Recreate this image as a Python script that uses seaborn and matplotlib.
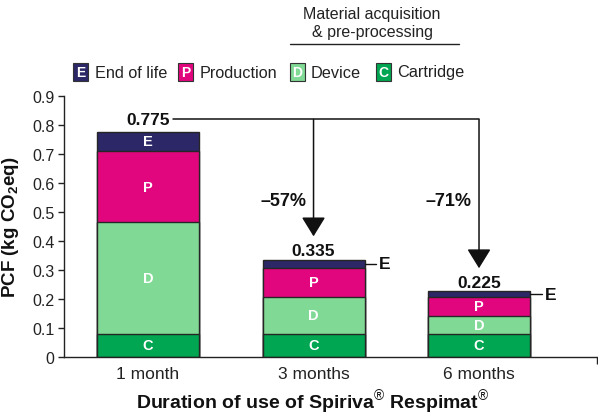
import numpy as np
import pandas as pd
import matplotlib.pyplot as plt
import seaborn as sns
from matplotlib.patches import Rectangle
from matplotlib.lines import Line2D

# Datos (kg CO2eq por segmento)
meses = ['1 month', '3 months', '6 months']
cartucho = [0.080, 0.080, 0.080]
dispositivo = [0.383, 0.125, 0.061]
produccion = [0.247, 0.102, 0.066]
fin_vida = [0.065, 0.028, 0.018]
totales = [0.775, 0.335, 0.225]

letras = ['C', 'D', 'P', 'E']
nombres = ['Cartridge', 'Device', 'Production', 'End of life']
colores = ['#00a651', '#80d994', '#e2067e', '#2c2767']

sns.set_style('ticks')
plt.rcParams['font.family'] = ['Liberation Sans', 'DejaVu Sans']
plt.rcParams['mathtext.fontset'] = 'custom'
plt.rcParams['mathtext.rm'] = 'Liberation Sans'
plt.rcParams['mathtext.bf'] = 'Liberation Sans:bold'

W, H = 598, 414
fig = plt.figure(figsize=(W / 100, H / 100), dpi=100)
ax = fig.add_axes([64 / W, 1 - 357.7 / H, (597 - 64) / W, (357.7 - 96.7) / H])

# Apilado: se dibujan las alturas acumuladas de mayor a menor
capas = np.array([cartucho, dispositivo, produccion, fin_vida])
acum = np.cumsum(capas, axis=0)
ancho = 0.616
for k in range(len(capas) - 1, -1, -1):
    df = pd.DataFrame({'mes': meses, 'top': acum[k]})
    sns.barplot(data=df, x='mes', y='top', color=colores[k], saturation=1,
                width=ancho, edgecolor='#262626', linewidth=1.0, ax=ax)

# Letras dentro de los segmentos
for i in range(len(meses)):
    for k in range(len(capas)):
        if k == 3 and i > 0:
            continue
        base = acum[k - 1][i] if k > 0 else 0
        ax.text(i, base + capas[k][i] / 2, letras[k], ha='center', va='center',
                color='white', fontsize=10.5, fontweight='bold')

# Etiqueta "E" fuera de la barra (3 y 6 meses)
for i in (1, 2):
    yc = acum[2][i] + capas[3][i] / 2
    x0 = i + ancho / 2
    ax.plot([x0, x0 + 0.072], [yc, yc], color='#111', lw=1.0)
    ax.text(x0 + 0.088, yc, 'E', ha='left', va='center', fontsize=12.5,
            fontweight='bold', color='#111')

# Totales
y_linea = totales[0] + 0.043
ax.text(0, y_linea, f'{totales[0]:.3f}', ha='center', va='center',
        fontsize=12.5, fontweight='bold', color='#111')
for i in (1, 2):
    ax.text(i, totales[i] + 0.016, f'{totales[i]:.3f}', ha='center',
            va='baseline', fontsize=12.5, fontweight='bold', color='#111')

# Lineas de reduccion con flechas
ax.plot([0.15, 2], [y_linea, y_linea], color='#111', lw=1.1)
for i in (1, 2):
    ax.annotate('', xy=(i, totales[i] + 0.08), xytext=(i, y_linea),
                arrowprops=dict(arrowstyle='-|>,head_length=0.6,head_width=0.37',
                                mutation_scale=20, color='#111', lw=1.1,
                                shrinkA=0, shrinkB=0))
    cambio = round((totales[i] / totales[0] - 1) * 100)
    ax.text(i - 0.045, 0.540, f'\u2013{abs(cambio)}%', ha='right', va='center',
            fontsize=13, fontweight='bold', color='#111')

# Ejes
ax.set_xlim(-0.508, 2.713)
ax.set_ylim(0, 0.9)
ax.set_yticks(np.arange(0, 0.91, 0.1))
ax.set_yticklabels(['0'] + [f'{v:.1f}' for v in np.arange(0.1, 0.91, 0.1)])
ax.tick_params(axis='y', length=4, width=1.0, pad=3, labelsize=11.5, colors='#222')
ax.tick_params(axis='x', length=0, pad=7, labelsize=12.5, colors='#222')
ax.set_xticks([2.713], minor=True)
ax.tick_params(axis='x', which='minor', length=5, width=1.0, color='#222')
for s in ['top', 'right']:
    ax.spines[s].set_visible(False)
for s in ['left', 'bottom']:
    ax.spines[s].set_color('#222')
    ax.spines[s].set_linewidth(1.0)

ax.set_ylabel(r'PCF (kg CO$_\mathbf{2}$eq)', fontsize=13.5, fontweight='bold',
              color='#111')
ax.yaxis.set_label_coords(-0.08, 0.5)
ax.set_xlabel(r'Duration of use of Spiriva$^{\circledR}$ Respimat$^{\circledR}$',
              fontsize=14, fontweight='bold', color='#111')
ax.xaxis.set_label_coords((313 - 64) / 533, -0.117)

# Leyenda manual con cajas de letras
entradas = [('E', 'End of life', colores[3], 73, 95),
            ('P', 'Production', colores[2], 178, 200),
            ('D', 'Device', colores[1], 290, 311),
            ('C', 'Cartridge', colores[0], 376, 397)]
for letra, nombre, col, bx, tx in entradas:
    fig.add_artist(Rectangle((bx / W, 1 - 82 / H), 15 / W, 18 / H,
                             transform=fig.transFigure, facecolor=col,
                             edgecolor='#333', lw=0.8))
    fig.text((bx + 7.5) / W, 1 - 73 / H, letra, ha='center', va='center',
             color='white', fontsize=10, fontweight='bold')
    fig.text(tx / W, 1 - 73 / H, nombre, ha='left', va='center', fontsize=11.7,
             color='#222')

fig.text(372 / W, 1 - 15 / H, 'Material acquisition', ha='center',
         va='center', fontsize=11.5, color='#222')
fig.text(372 / W, 1 - 33 / H, '& pre-processing', ha='center', va='center',
         fontsize=11.5, color='#222')
fig.add_artist(Line2D([290 / W, 459 / W], [1 - 45 / H, 1 - 45 / H],
                      transform=fig.transFigure, color='#222', lw=1.0))

fig.savefig('out.png', dpi=100)
